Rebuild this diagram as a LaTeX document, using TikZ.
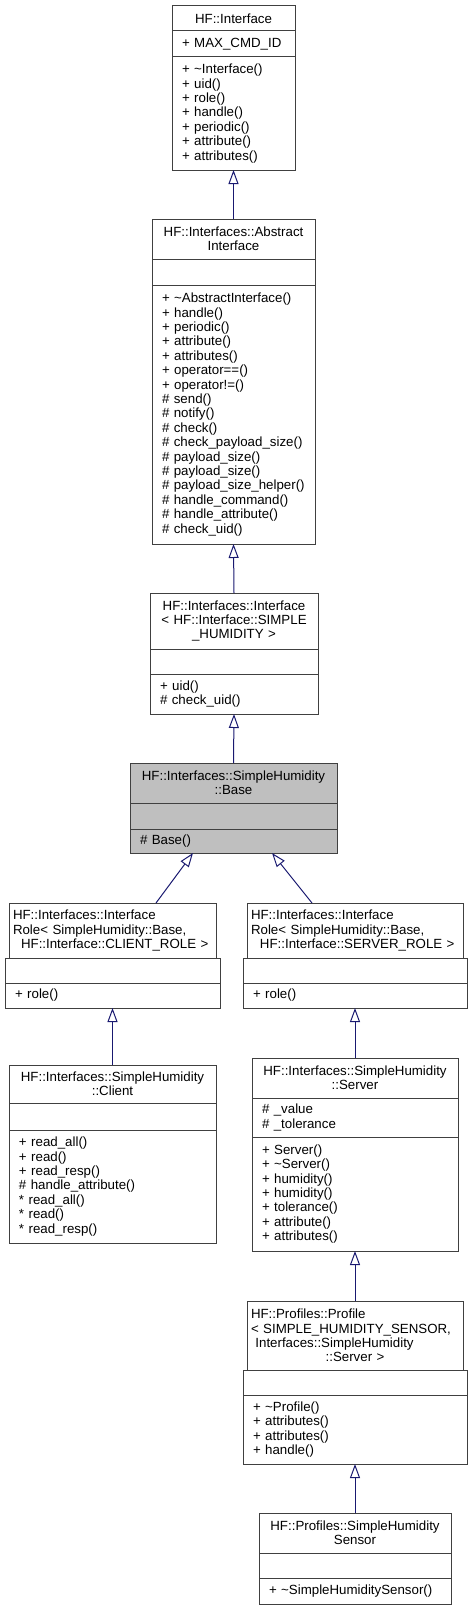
\documentclass[tikz,border=0pt]{standalone}
\usepackage{fontspec}
\setmainfont{Liberation Sans}
\usetikzlibrary{arrows.meta}
\usetikzlibrary{positioning}
\definecolor{dxline}{HTML}{404040}
\definecolor{dxarrow}{HTML}{191970}
\definecolor{dxbase}{HTML}{BFBFBF}
\newcommand\umlfont{\fontsize{13.3}{14.4}\selectfont}
\newcommand\lline[1]{\makebox[\linewidth][l]{#1}}

\begin{document}
\begin{tikzpicture}[
    x=1pt, y=-1pt,
    line width=1pt,
    part/.style={draw=dxline, fill=white, inner sep=0pt, outer sep=0pt,
                 font=\umlfont, text=black},
    ttl/.style={part, align=center, inner xsep=4pt},
    mem/.style={part, align=left, inner xsep=10pt},
    inh/.style={dxarrow, -{Triangle[open, fill=white, length=14pt, width=10pt]}},
  ]
  \useasboundingbox (0,0) rectangle (473,1611);

  % ---- HF::Interface ----
  \node[ttl, text width=115pt, minimum height=25pt, anchor=north] (ifaceT) at (233.5,6) {HF::Interface};
  \node[mem, text width=103pt, minimum height=26pt, below=0pt of ifaceT] (ifaceA) {+ MAX\_CMD\_ID};
  \node[mem, text width=103pt, minimum height=113pt, below=0pt of ifaceA] (ifaceM)
    {+ \textasciitilde Interface()\\+ uid()\\+ role()\\+ handle()\\+ periodic()\\+ attribute()\\+ attributes()};

  % ---- AbstractInterface ----
  \node[ttl, text width=155pt, minimum height=40pt, anchor=north] (absT) at (233.5,219)
    {HF::Interfaces::Abstract\\Interface};
  \node[mem, text width=143pt, minimum height=26pt, below=0pt of absT] (absA) {};
  \node[mem, text width=143pt, minimum height=259pt, below=0pt of absA] (absM)
    {+ \textasciitilde AbstractInterface()\\+ handle()\\+ periodic()\\+ attribute()\\+ attributes()\\
     + operator==()\\+ operator!=()\\\# send()\\\# notify()\\\# check()\\\# check\_payload\_size()\\
     \# payload\_size()\\\# payload\_size()\\\# payload\_size\_helper()\\\# handle\_command()\\
     \# handle\_attribute()\\\# check\_uid()};

  % ---- Interface< SIMPLE_HUMIDITY > ----
  \node[ttl, text width=160pt, minimum height=56pt, anchor=north] (tplT) at (234,593)
    {HF::Interfaces::Interface\\< HF::Interface::SIMPLE\\\_HUMIDITY >};
  \node[mem, text width=148pt, minimum height=25pt, below=0pt of tplT] (tplA) {};
  \node[mem, text width=148pt, minimum height=40pt, below=0pt of tplA] (tplM)
    {+ uid()\\\# check\_uid()};

  % ---- SimpleHumidity::Base ----
  \node[ttl, fill=dxbase, text width=199pt, minimum height=40pt, anchor=north] (baseT) at (233.5,763)
    {HF::Interfaces::SimpleHumidity\\::Base};
  \node[mem, fill=dxbase, text width=187pt, minimum height=26pt, below=0pt of baseT] (baseA) {};
  \node[mem, fill=dxbase, text width=187pt, minimum height=24pt, below=0pt of baseA] (baseM)
    {\# Base()};

  % ---- InterfaceRole client ----
  \node[ttl, text width=199pt, minimum height=55pt, anchor=north] (croleT) at (112.5,903)
    {\lline{HF::Interfaces::Interface}\\\lline{Role< SimpleHumidity::Base,}\\\ HF::Interface::CLIENT\_ROLE >};
  \node[mem, text width=195pt, minimum height=25pt, below=0pt of croleT] (croleA) {};
  \node[mem, text width=195pt, minimum height=25pt, below=0pt of croleA] (croleM) {+ role()};

  % ---- InterfaceRole server ----
  \node[ttl, text width=208pt, minimum height=55pt, anchor=north] (sroleT) at (355,903)
    {\lline{HF::Interfaces::Interface}\\\lline{Role< SimpleHumidity::Base,}\\\ HF::Interface::SERVER\_ROLE >};
  \node[mem, text width=204pt, minimum height=25pt, below=0pt of sroleT] (sroleA) {};
  \node[mem, text width=204pt, minimum height=25pt, below=0pt of sroleA] (sroleM) {+ role()};

  % ---- SimpleHumidity::Client ----
  \node[ttl, text width=199pt, minimum height=38pt, anchor=north] (cliT) at (112.5,1065)
    {HF::Interfaces::SimpleHumidity\\::Client};
  \node[mem, text width=187pt, minimum height=27pt, below=0pt of cliT] (cliA) {};
  \node[mem, text width=187pt, minimum height=113pt, below=0pt of cliA] (cliM)
    {+ read\_all()\\+ read()\\+ read\_resp()\\\# handle\_attribute()\\{*} read\_all()\\{*} read()\\{*} read\_resp()};

  % ---- SimpleHumidity::Server ----
  \node[ttl, text width=198pt, minimum height=40pt, anchor=north] (srvT) at (355,1058)
    {HF::Interfaces::SimpleHumidity\\::Server};
  \node[mem, text width=186pt, minimum height=39pt, below=0pt of srvT] (srvA)
    {\# \_value\\\# \_tolerance};
  \node[mem, text width=186pt, minimum height=114pt, below=0pt of srvA] (srvM)
    {+ Server()\\+ \textasciitilde Server()\\+ humidity()\\+ humidity()\\+ tolerance()\\+ attribute()\\+ attributes()};

  % ---- Profiles::Profile ----
  \node[ttl, text width=208pt, minimum height=69pt, anchor=north] (profT) at (355,1301)
    {\lline{HF::Profiles::Profile}\\\lline{< SIMPLE\_HUMIDITY\_SENSOR,}\\\lline{\ Interfaces::SimpleHumidity}\\::Server >};
  \node[mem, text width=204pt, minimum height=25pt, below=0pt of profT] (profA) {};
  \node[mem, text width=204pt, minimum height=69pt, below=0pt of profA] (profM)
    {+ \textasciitilde Profile()\\+ attributes()\\+ attributes()\\+ handle()};

  % ---- Profiles::SimpleHumiditySensor ----
  \node[ttl, text width=184pt, minimum height=40pt, anchor=north] (sensT) at (355,1513)
    {HF::Profiles::SimpleHumidity\\Sensor};
  \node[mem, text width=172pt, minimum height=25pt, below=0pt of sensT] (sensA) {};
  \node[mem, text width=172pt, minimum height=26pt, below=0pt of sensA] (sensM)
    {+ \textasciitilde SimpleHumiditySensor()};

  % ---- inheritance ----
  \draw[inh] (absT.north) -- (ifaceM.south);
  \draw[inh] (tplT.north) -- (absM.south);
  \draw[inh] (baseT.north) -- (tplM.south);
  \draw[inh] ([xshift=43.5pt]croleT.north) -- ([xshift=-40.5pt]baseM.south);
  \draw[inh] ([xshift=-43pt]sroleT.north) -- ([xshift=38.5pt]baseM.south);
  \draw[inh] (cliT.north) -- (croleM.south);
  \draw[inh] (srvT.north) -- (sroleM.south);
  \draw[inh] (profT.north) -- (srvM.south);
  \draw[inh] (sensT.north) -- (profM.south);
\end{tikzpicture}
\end{document}
